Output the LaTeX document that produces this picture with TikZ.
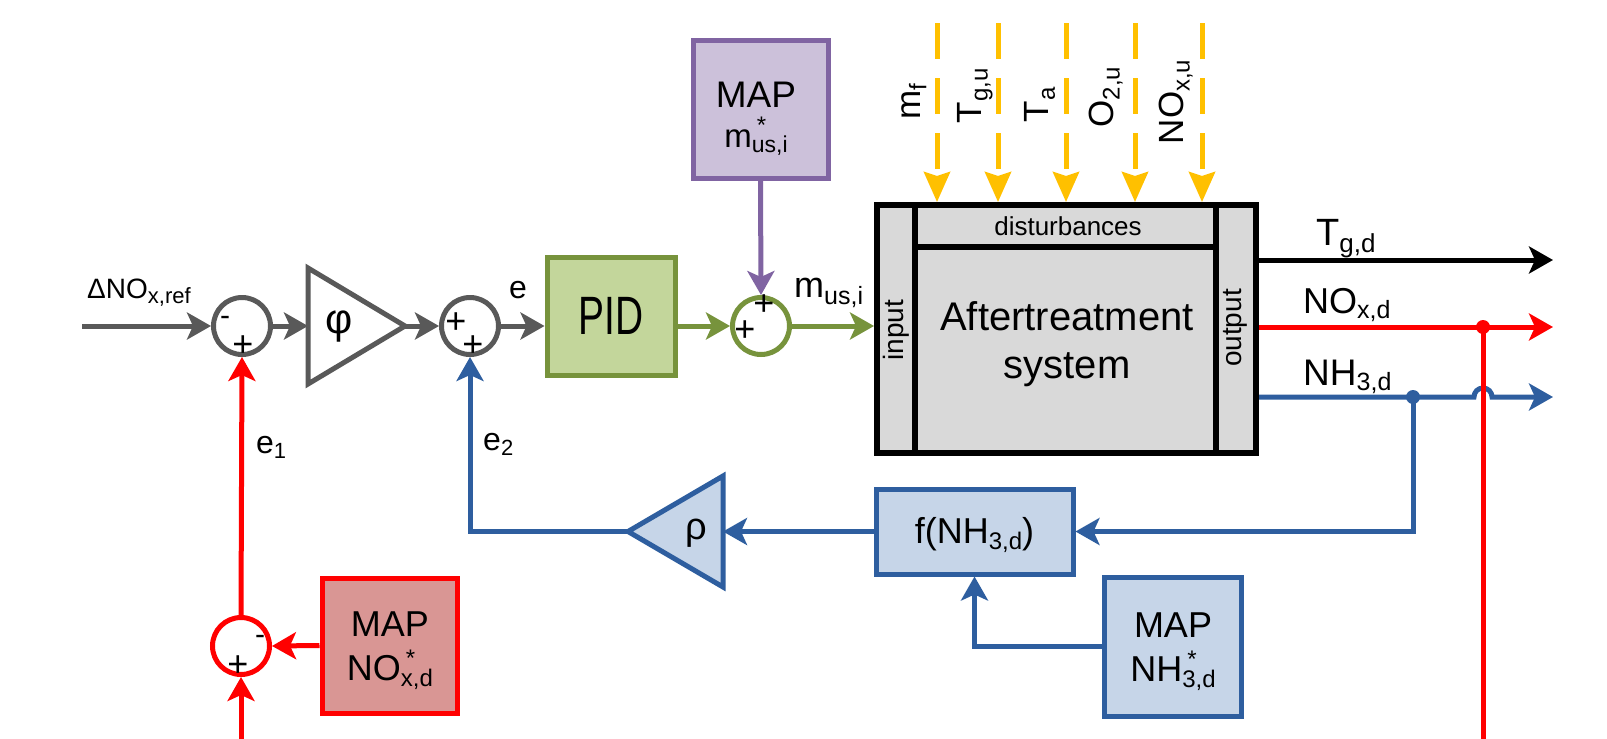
\documentclass[tikz,border=0pt]{standalone}
\usepackage{fontspec}
\setmainfont{Liberation Sans}
\usepackage{graphicx}
\usetikzlibrary{arrows.meta}

\definecolor{sgray}{HTML}{595959}
\definecolor{sgreen}{HTML}{77933C}
\definecolor{sgreenfill}{HTML}{C3D69B}
\definecolor{spurple}{HTML}{8064A2}
\definecolor{spurplefill}{HTML}{CCC1DA}
\definecolor{sred}{HTML}{FF0000}
\definecolor{sredfill}{HTML}{D99694}
\definecolor{sblue}{HTML}{2E5E9F}
\definecolor{sbluefill}{HTML}{C6D5E8}
\definecolor{sysfill}{HTML}{D9D9D9}
\definecolor{sgold}{HTML}{FFC000}

% font size in pt (1pt = 1 output pixel here)
\newcommand\fsz[1]{\fontsize{#1}{#1}\selectfont}
% lowered text: drop, size, text
\newcommand\lowtxt[3]{\raisebox{-#1pt}{\fsz{#2}#3}}
% star over subscript: star raise, sub drop, star size, sub size, sub text
\newcommand\starsub[5]{\makebox[0pt][l]{\hspace{5pt}\raisebox{#1pt}{\fsz{#3}*}}\raisebox{-#2pt}{\fsz{#4}#5}}

\begin{document}
\begin{tikzpicture}[x=1pt,y=-1pt,
  sig/.style={line width=5pt},
  arrowed/.style={-{Stealth[length=24pt,width=27pt,inset=6pt]}},
  sumnode/.style={circle,draw,fill=white,line width=5pt,minimum size=57pt,inner sep=0pt},
  blk/.style={draw,line width=5pt,inner sep=0pt},
  sgn/.style={inner sep=0pt,font=\fsz{36}},
  lbl/.style={inner sep=0pt,anchor=base west},
  ctr/.style={inner sep=0pt,anchor=base},
  rlbl/.style={rotate=90,inner sep=0pt},
  dist/.style={sgold,line width=5pt,dash pattern=on 36pt off 19pt,-{Stealth[length=30pt,width=26pt,inset=4pt]}},
]
\fill[white] (0,0) rectangle (1607,739);
\useasboundingbox (0,0) rectangle (1607,739);

% ---------------- forward path ----------------
\coordinate (in) at (82,326);
\node[sumnode,draw=sgray] (s1) at (242,326) {};
\node[sgn] (s1m) at (225,321) {\fsz{30}-};
\node[sgn] (s1p) at (243,346) {+};

\coordinate (phiA) at (308,268);
\coordinate (phiB) at (308,384);
\coordinate (phiC) at (405,326);
\coordinate (phiIn) at (308,326);
\draw[sgray,line width=5pt,fill=white,line join=miter] (phiA) -- (phiC) -- (phiB) -- cycle;
\node[inner sep=0pt] (phi) at (339,327) {\fsz{42}φ};

\node[sumnode,draw=sgray] (s2) at (470,326) {};
\node[sgn] (s2a) at (456,323) {+};
\node[sgn] (s2b) at (473,346) {+};

\node[blk,draw=sgreen,fill=sgreenfill,minimum width=128pt,minimum height=118pt] (pid) at (611,316)
  {\scalebox{0.72}[1]{\fsz{54}PID}};

\node[sumnode,draw=sgreen] (s3) at (761,326) {};
\node[sgn] (s3a) at (745,331) {+};
\node[sgn] (s3b) at (764,305) {+};

\node[blk,draw=spurple,fill=spurplefill,minimum width=135pt,minimum height=138pt] (mapm) at (760.5,109) {};
\node[ctr] (mapmA) at (756,107) {\fsz{37}MAP};
\node[ctr] (mapmB) at (756,147) {\fsz{33}m\starsub{14}{5}{24}{23}{us,i}};

\draw[sgray,sig,arrowed] (in) -- (s1.west);
\draw[sgray,sig,arrowed] (s1.east) -- (phiIn);
\draw[sgray,sig,arrowed] (phiC) -- (s2.west);
\draw[sgray,sig,arrowed] (s2.east) -- (s2.east -| pid.west);
\draw[sgreen,sig,arrowed] (s2.east -| pid.east) -- (s3.west);
\draw[spurple,sig,arrowed] (mapm.south) -- (s3.north);

\node[lbl] (lref) at (87,298) {\fsz{28}ΔNO\lowtxt{5}{22}{x,ref}};
\node[lbl] (le) at (509,298) {\fsz{32}e};

% ---------------- plant ----------------
\node[draw=black,line width=6pt,fill=sysfill,minimum width=379pt,minimum height=248pt,inner sep=0pt] (sys) at (1066.5,329) {};
\draw[line width=6pt] (915,205) -- (915,453) (1216,205) -- (1216,453) (915,247) -- (1216,247);
\node[ctr] (dtxt) at (1068,235) {\fsz{26}disturbances};
\node[ctr] (atxt1) at (1067,330) {\fsz{40}Aftertreatment};
\node[ctr] (atxt2) at (1067,378) {\fsz{40}system};
\node[rlbl] (intxt) at (896,330) {\fsz{28}input};
\node[rlbl] (outtxt) at (1235,328) {\fsz{28}output};

\draw[sgreen,sig,arrowed] (s3.east) -- (s3.east -| sys.west);
\node[lbl] (lmus) at (794,297) {\fsz{36}m\lowtxt{7}{25}{us,i}};

% disturbance inputs
\foreach \i/\xx in {1/937,2/998,3/1066,4/1135,5/1202} {
  \coordinate (d\i) at (\xx,23);
  \draw[dist] (d\i) -- (d\i |- sys.north);
}
\node[rlbl] (lmf) at (914,102) {\fsz{35}m\lowtxt{6}{24}{f}};
\node[rlbl] (ltg) at (975,96) {\fsz{35}T\lowtxt{6}{24}{g,u}};
\node[rlbl] (lta) at (1040,105) {\fsz{35}T\lowtxt{6}{24}{a}};
\node[rlbl] (lo2) at (1106,97) {\fsz{35}O\lowtxt{6}{24}{2,u}};
\node[rlbl] (lnx) at (1176,102) {\fsz{35}NO\lowtxt{6}{24}{x,u}};

% outputs
\coordinate (otg) at (1553,260);
\coordinate (onx) at (1553,327);
\coordinate (onh) at (1553,397);
\coordinate (jr) at (1483,327);
\coordinate (jb) at (1413,397);
\coordinate (rb) at (1483,739);
\draw[black,sig,arrowed] (sys.east |- otg) -- (otg);
\draw[sred,sig,arrowed] (sys.east |- onx) -- (onx);
\draw[sblue,sig,arrowed] (sys.east |- onh) -- (1474,397) arc(180:360:9) -- (onh);
\node[lbl] (ltgd) at (1316,245) {\fsz{38}T\lowtxt{7}{26}{g,d}};
\node[lbl] (lnxd) at (1303,313) {\fsz{36}NO\lowtxt{5}{25}{x,d}};
\node[lbl] (lnhd) at (1303,385) {\fsz{37}NH\lowtxt{5}{25}{3,d}};

% ---------------- NH3 feedback ----------------
\node[blk,draw=sblue,fill=sbluefill,minimum width=197pt,minimum height=85pt] (f) at (974.5,531.5) {};
\node[ctr] (ftxt) at (974.5,543) {\fsz{36}f(NH\lowtxt{6}{24}{3,d})};
\coordinate (rhoA) at (723,476);
\coordinate (rhoB) at (723,587);
\coordinate (rhoC) at (628,531.5);
\coordinate (rhoIn) at (723,531.5);
\draw[sblue,line width=5pt,fill=sbluefill,line join=miter] (rhoA) -- (rhoB) -- (rhoC) -- cycle;
\node[inner sep=0pt] (rho) at (696,533) {\fsz{38}ρ};
\node[blk,draw=sblue,fill=sbluefill,minimum width=137pt,minimum height=139pt] (mapn) at (1172.5,646.5) {};
\node[ctr] (mapnA) at (1173,637) {\fsz{36}MAP};
\node[ctr] (mapnB) at (1173,681) {\fsz{36}NH\starsub{14}{6}{24}{24}{3,d}};

\draw[sblue,sig,arrowed] (jb) |- (f.east);
\draw[sblue,sig,arrowed] (f.west) -- (rhoIn);
\draw[sblue,sig,arrowed] (rhoC) -| (s2.south);
\draw[sblue,sig,arrowed] (mapn.west) -| (f.south);
\node[lbl] (le2) at (483,450) {\fsz{32}e\lowtxt{5}{22}{2}};
\fill[sblue] (jb) circle (7);

% ---------------- NOx feedback ----------------
\node[sumnode,draw=sred] (s4) at (241,646) {};
\node[sgn] (s4m) at (260,640) {\fsz{30}-};
\node[sgn] (s4p) at (238,666) {+};
\node[blk,draw=sred,fill=sredfill,minimum width=135pt,minimum height=135pt] (mapx) at (389.5,645.5) {};
\node[ctr] (mapxA) at (390,636) {\fsz{36}MAP};
\node[ctr] (mapxB) at (390,680) {\fsz{36}NO\starsub{14}{6}{24}{24}{x,d}};
\coordinate (lb) at (241,739);
\draw[sred,sig,arrowed] (mapx.west) -- (s4.east);
\draw[sred,sig,arrowed] (s4.north) -- (s1.south);
\draw[sred,sig,arrowed] (lb) -- (s4.south);
\draw[sred,sig] (jr) -- (rb);
\fill[sred] (jr) circle (7);
\node[lbl] (le1) at (256,453) {\fsz{32}e\lowtxt{5}{22}{1}};
\end{tikzpicture}
\end{document}
